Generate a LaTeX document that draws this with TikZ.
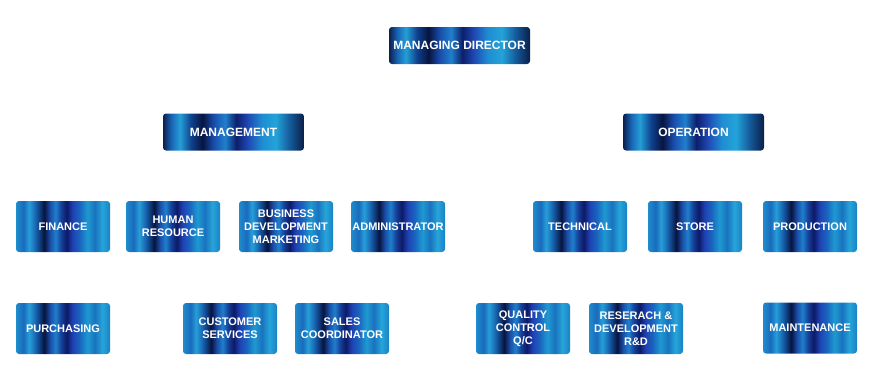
\documentclass[tikz,border=0pt]{standalone}
\usepackage{fontspec}
\setmainfont{Liberation Sans}
\usepackage{xcolor}
% tikz fits the box into 25bp--75bp of the shading
\pgfdeclarehorizontalshading{stripes}{100bp}{rgb(0bp)=(0.12,0.55,0.80);
	rgb(25bp)=(0.12,0.55,0.80); rgb(29bp)=(0.10,0.42,0.74); rgb(32bp)=(0.15,0.62,0.85);
	rgb(36bp)=(0.08,0.35,0.65); rgb(40bp)=(0.03,0.08,0.25); rgb(43bp)=(0.10,0.30,0.65);
	rgb(46bp)=(0.12,0.50,0.80); rgb(49bp)=(0.08,0.25,0.60); rgb(52bp)=(0.05,0.10,0.40);
	rgb(55bp)=(0.12,0.25,0.70); rgb(59bp)=(0.10,0.40,0.75); rgb(63bp)=(0.12,0.60,0.82);
	rgb(67bp)=(0.10,0.45,0.75); rgb(71bp)=(0.15,0.65,0.85); rgb(75bp)=(0.10,0.50,0.78);
	rgb(100bp)=(0.10,0.50,0.78)}
\pgfdeclarehorizontalshading{darkstripes}{100bp}{rgb(0bp)=(0.05,0.12,0.30);
	rgb(25bp)=(0.05,0.12,0.30); rgb(28bp)=(0.10,0.40,0.72); rgb(31bp)=(0.14,0.62,0.84);
	rgb(35bp)=(0.06,0.25,0.55); rgb(39bp)=(0.03,0.08,0.25); rgb(43bp)=(0.10,0.30,0.68);
	rgb(47bp)=(0.12,0.50,0.80); rgb(51bp)=(0.05,0.12,0.42); rgb(55bp)=(0.12,0.28,0.70);
	rgb(60bp)=(0.12,0.55,0.82); rgb(65bp)=(0.14,0.64,0.85); rgb(70bp)=(0.08,0.35,0.60);
	rgb(75bp)=(0.04,0.12,0.28); rgb(100bp)=(0.04,0.12,0.28)}
\tikzset{
	unit/.style={shade,shading=stripes,rounded corners=3pt,minimum width=94pt,minimum height=51pt,
		inner sep=0pt,align=center,text=white,font=\fontsize{11}{13}\selectfont\bfseries},
	head/.style={unit,shading=darkstripes,minimum width=141pt,minimum height=37pt,
		font=\fontsize{12}{14}\selectfont\bfseries}}
\begin{document}
\begin{tikzpicture}[x=1pt,y=-1pt]
	\useasboundingbox (0,0) rectangle (877,378);
	% top
	\node[head] (md) at (459.5,45.5) {MANAGING DIRECTOR};
	\node[head] (mgmt) at (233.5,132) {MANAGEMENT};
	\node[head] (oper) at (693.5,132) {OPERATION};
	% management side
	\node[unit] (fin) at (63,226.5) {FINANCE};
	\node[unit] (hr) at (173,226.5) {HUMAN\\RESOURCE};
	\node[unit] (bdm) at (286,226.5) {BUSINESS\\DEVELOPMENT\\MARKETING};
	\node[unit] (adm) at (398,226.5) {ADMINISTRATOR};
	\node[unit] (pur) at (63,328.5) {PURCHASING};
	\node[unit] (cs) at (230,328.5) {CUSTOMER\\SERVICES};
	\node[unit] (sc) at (342,328.5) {SALES\\COORDINATOR};
	% operation side
	\node[unit] (tech) at (580,226.5) {TECHNICAL};
	\node[unit] (store) at (695,226.5) {STORE};
	\node[unit] (prod) at (810,226.5) {PRODUCTION};
	\node[unit] (qc) at (523,328.5) {QUALITY\\CONTROL\\Q/C};
	\node[unit] (rd) at (636,328.5) {RESERACH \&\\DEVELOPMENT\\R\&D};
	\node[unit] (maint) at (810,328) {MAINTENANCE};
\end{tikzpicture}
\end{document}
